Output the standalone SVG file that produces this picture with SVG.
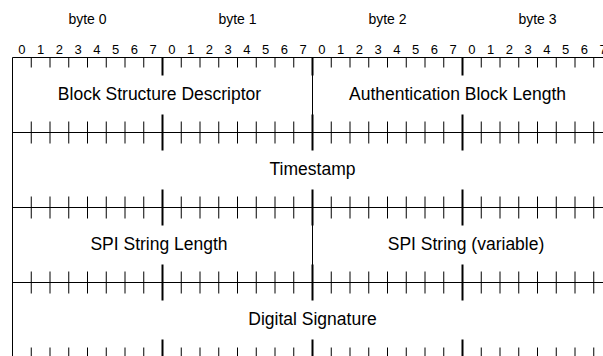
<svg xmlns="http://www.w3.org/2000/svg" xmlns:xlink="http://www.w3.org/1999/xlink" width="603" height="356" viewBox="0 0 603 356">
<style>
.lbl{font-family:"Liberation Sans",Arial,sans-serif;font-size:13px;fill:#000;text-anchor:middle}
.byt{font-family:"Liberation Sans",Arial,sans-serif;font-size:14px;fill:#000;text-anchor:middle}
.fld{font-family:"Liberation Sans",Arial,sans-serif;font-size:17.5px;fill:#000;text-anchor:middle}
.ln{stroke:#000;stroke-width:1;fill:none}
.bt{stroke:#000;stroke-width:2;fill:none}
</style>
<defs>
<path id="midMinor" d="M31.25 -11v22M50 -11v22M68.75 -11v22M87.5 -11v22M106.25 -11v22M125 -11v22M143.75 -11v22M181.25 -11v22M200 -11v22M218.75 -11v22M237.5 -11v22M256.25 -11v22M275 -11v22M293.75 -11v22M331.25 -11v22M350 -11v22M368.75 -11v22M387.5 -11v22M406.25 -11v22M425 -11v22M443.75 -11v22M481.25 -11v22M500 -11v22M518.75 -11v22M537.5 -11v22M556.25 -11v22M575 -11v22M593.75 -11v22" class="ln"/>
<path id="midByte" d="M162.5 -18v36M312.5 -18v36M462.5 -18v36" class="bt"/>
<path id="edgeMinor" d="M31.25 0v10M50 0v10M68.75 0v10M87.5 0v10M106.25 0v10M125 0v10M143.75 0v10M181.25 0v10M200 0v10M218.75 0v10M237.5 0v10M256.25 0v10M275 0v10M293.75 0v10M331.25 0v10M350 0v10M368.75 0v10M387.5 0v10M406.25 0v10M425 0v10M443.75 0v10M481.25 0v10M500 0v10M518.75 0v10M537.5 0v10M556.25 0v10M575 0v10M593.75 0v10" class="ln"/>
<path id="edgeByte" d="M162.5 0v18M312.5 0v18M462.5 0v18" class="bt"/>
</defs>
<rect width="603" height="356" fill="#fff"/>
<g id="ruler">
<text class="byt" x="87.5" y="24">byte 0</text>
<text class="byt" x="237.5" y="24">byte 1</text>
<text class="byt" x="387.5" y="24">byte 2</text>
<text class="byt" x="537.5" y="24">byte 3</text>
<g class="lbl">
<text x="21.9" y="54">0</text><text x="40.6" y="54">1</text><text x="59.4" y="54">2</text><text x="78.1" y="54">3</text><text x="96.9" y="54">4</text><text x="115.6" y="54">5</text><text x="134.4" y="54">6</text><text x="153.1" y="54">7</text>
<text x="171.9" y="54">0</text><text x="190.6" y="54">1</text><text x="209.4" y="54">2</text><text x="228.1" y="54">3</text><text x="246.9" y="54">4</text><text x="265.6" y="54">5</text><text x="284.4" y="54">6</text><text x="303.1" y="54">7</text>
<text x="321.9" y="54">0</text><text x="340.6" y="54">1</text><text x="359.4" y="54">2</text><text x="378.1" y="54">3</text><text x="396.9" y="54">4</text><text x="415.6" y="54">5</text><text x="434.4" y="54">6</text><text x="453.1" y="54">7</text>
<text x="471.9" y="54">0</text><text x="490.6" y="54">1</text><text x="509.4" y="54">2</text><text x="528.1" y="54">3</text><text x="546.9" y="54">4</text><text x="565.6" y="54">5</text><text x="584.4" y="54">6</text><text x="603.1" y="54">7</text>
</g>
</g>
<g id="grid">
<path class="ln" d="M12.5 57.5H603M12.5 132.5H603M12.5 207.5H603M12.5 282.5H603M12.5 357.5H603M12.5 57.5V357.5M312.5 57.5V132.5M312.5 207.5V282.5"/>
<use xlink:href="#edgeMinor" transform="translate(0,57.5)"/>
<use xlink:href="#edgeByte" transform="translate(0,57.5)"/>
<use xlink:href="#midMinor" transform="translate(0,132.5)"/>
<use xlink:href="#midByte" transform="translate(0,132.5)"/>
<use xlink:href="#midMinor" transform="translate(0,207.5)"/>
<use xlink:href="#midByte" transform="translate(0,207.5)"/>
<use xlink:href="#midMinor" transform="translate(0,282.5)"/>
<use xlink:href="#midByte" transform="translate(0,282.5)"/>
<use xlink:href="#edgeMinor" transform="translate(0,357.5) scale(1,-1)"/>
<use xlink:href="#edgeByte" transform="translate(0,357.5) scale(1,-1)"/>
</g>
<g id="block-structure-descriptor"><text class="fld" x="159.5" y="99.5">Block Structure Descriptor</text></g>
<g id="authentication-block-length"><text class="fld" x="457.5" y="99.5">Authentication Block Length</text></g>
<g id="timestamp"><text class="fld" x="312.5" y="174.5">Timestamp</text></g>
<g id="spi-string-length"><text class="fld" x="159" y="249.5">SPI String Length</text></g>
<g id="spi-string"><text class="fld" x="466" y="249.5">SPI String (variable)</text></g>
<g id="digital-signature"><text class="fld" x="312.5" y="324.5">Digital Signature</text></g>
<g id="connectors"/>
</svg>
